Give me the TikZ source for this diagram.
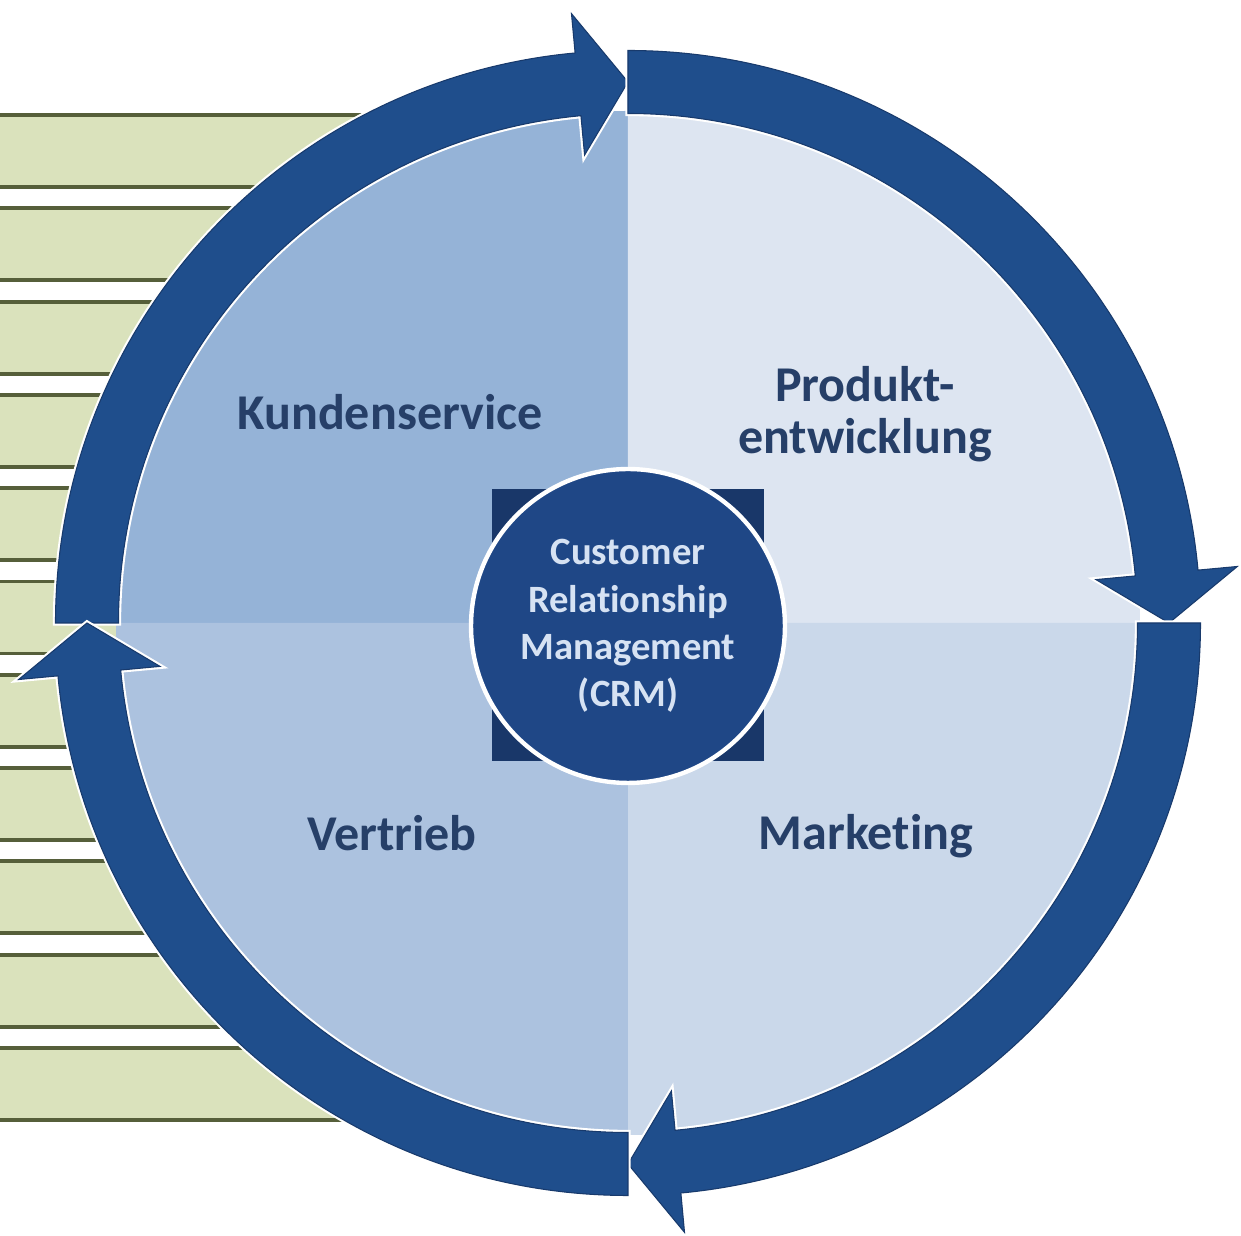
\documentclass[tikz,border=0pt]{standalone}
\usepackage{fontspec}
\setmainfont{Carlito}[Ligatures=NoCommon]
\usepackage{tikz}
\usetikzlibrary{shapes,arrows}

\definecolor{ringblue}{RGB}{31,78,140}
\definecolor{ringedge}{RGB}{24,58,108}
\definecolor{crmblue}{RGB}{31,71,134}
\definecolor{crmdark}{RGB}{25,55,105}
\definecolor{qtl}{RGB}{149,179,215}
\definecolor{qtr}{RGB}{221,229,241}
\definecolor{qbl}{RGB}{172,194,223}
\definecolor{qbr}{RGB}{202,216,234}
\definecolor{labelblue}{RGB}{38,63,104}
\definecolor{crmtext}{RGB}{214,226,243}
\definecolor{barfill}{RGB}{218,226,188}
\definecolor{barline}{RGB}{86,95,58}

\begin{document}
\begin{tikzpicture}[x=0.02cm,y=0.02cm]
\tikzstyle{bar}=[fill=barfill,draw=barline,line width=2.2pt]
\tikzstyle{ringarrow}=[fill=ringblue,draw=ringedge,line width=0.6pt,preaction={draw=white,line width=3pt}]
\tikzstyle{segtext}=[text=labelblue,font=\fontsize{28.5}{29.5}\selectfont\bfseries,align=center,inner sep=0pt]
\useasboundingbox (-628,-613) rectangle (613,623);
\fill[white] (-628,-613) rectangle (613,623);
% stripes on the left
\foreach \i in {0,...,10}
  \draw[bar] (-640,508-93.3*\i) rectangle (0,436-93.3*\i);
% four quarters
\fill[qtl] (0,0) -- (180:512) arc[start angle=180,end angle=90,radius=512] -- cycle;
\fill[qtr] (0,0) -- (90:512) arc[start angle=90,end angle=0,radius=512] -- cycle;
\fill[qbr] (0,0) -- (0:512) arc[start angle=0,end angle=-90,radius=512] -- cycle;
\fill[qbl] (0,0) -- (-90:512) arc[start angle=-90,end angle=-180,radius=512] -- cycle;
% ring of arrows, clockwise
\foreach \s in {180,90,0,-90} {
  \draw[ringarrow] (\s:572.5) arc[start angle=\s,end angle=\s-84.7,radius=572.5]
    -- (\s-84.7:612) -- (\s-90:541) -- (\s-84.7:470) -- (\s-84.7:509.5)
    arc[start angle=\s-84.7,end angle=\s,radius=509.5] -- cycle;
}
% centre
\node[rectangle,fill=crmdark,minimum size=5.44cm] (crmsq) at (0,-2) {};
\node[circle,fill=crmblue,draw=white,line width=2.5pt,minimum size=6.28cm,
  text=crmtext,font=\fontsize{22}{27}\selectfont\bfseries,align=center] (crm) at (0,-3)
  {Customer\\Relationship\\Management\\(CRM)};
% labels
\node[segtext] (kunden) at (-238,211) {Kundenservice};
\node[segtext] (produkt) at (237,209) {Produkt-\\entwicklung};
\node[segtext] (vertrieb) at (-236,-210) {Vertrieb};
\node[segtext] (marketing) at (238,-213) {Marketing};
\end{tikzpicture}
\end{document}
